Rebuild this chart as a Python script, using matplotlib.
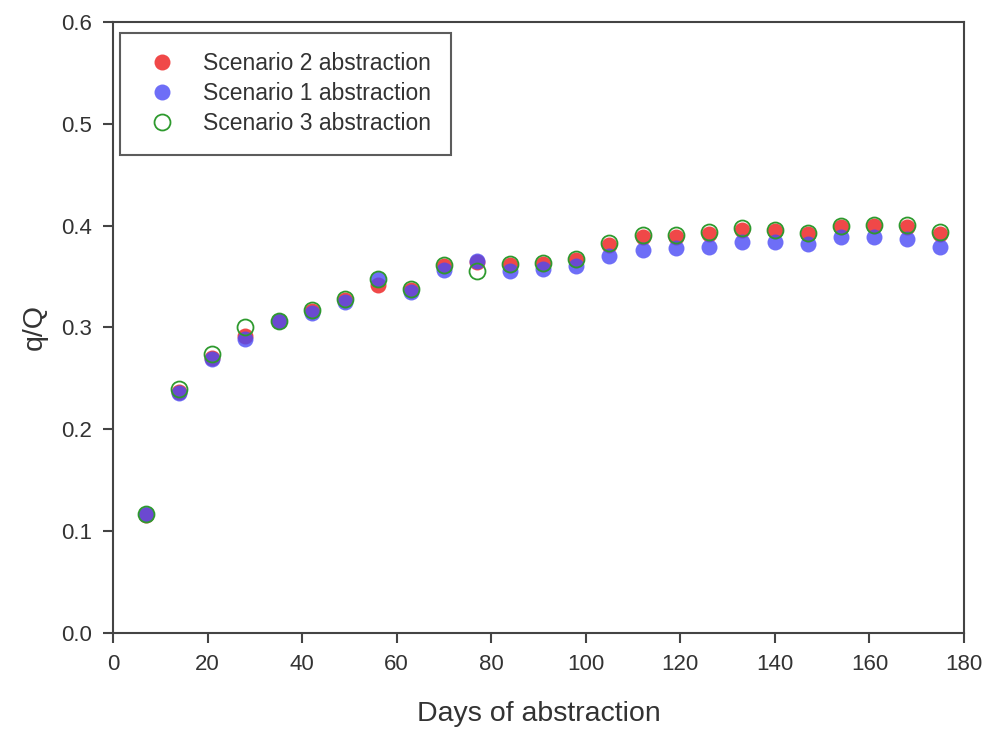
import matplotlib
matplotlib.use("Agg")
import matplotlib.pyplot as plt

plt.rcParams['font.family'] = ['Liberation Sans', 'DejaVu Sans']

days = [7, 14, 21, 28, 35, 42, 49, 56, 63, 70, 77, 84, 91, 98, 105, 112, 119,
        126, 133, 140, 147, 154, 161, 168, 175]

scenario2 = [0.116, 0.237, 0.270, 0.292, 0.306, 0.316, 0.327, 0.342, 0.337,
             0.360, 0.364, 0.361, 0.362, 0.366, 0.381, 0.389, 0.389, 0.392,
             0.396, 0.395, 0.392, 0.399, 0.400, 0.399, 0.392]
scenario1 = [0.117, 0.236, 0.269, 0.289, 0.306, 0.314, 0.325, 0.348, 0.335,
             0.356, 0.365, 0.355, 0.357, 0.360, 0.370, 0.376, 0.378, 0.379,
             0.384, 0.384, 0.382, 0.389, 0.389, 0.387, 0.379]
scenario3 = [0.117, 0.240, 0.274, 0.300, 0.306, 0.317, 0.328, 0.348, 0.338,
             0.361, 0.355, 0.362, 0.363, 0.367, 0.383, 0.391, 0.391, 0.394,
             0.398, 0.396, 0.393, 0.400, 0.401, 0.401, 0.394]

text_col = '#333333'
fig = plt.figure(figsize=(9.89, 7.32), dpi=100)
ax = fig.add_axes([0.1143, 0.1352, 0.8604, 0.835])

ax.plot(days, scenario2, 'o', ms=11.5, color='#f04848', mec='none',
        label='Scenario 2 abstraction', zorder=3)
ax.plot(days, scenario1, 'o', ms=11.5, color='#4a4af5', alpha=0.8, mec='none',
        label='Scenario 1 abstraction', zorder=4)
ax.plot(days, scenario3, 'o', ms=11.5, mfc='none', mec='#2e9a2e', mew=1.3,
        label='Scenario 3 abstraction', zorder=5)

ax.set_xlim(0, 180)
ax.set_ylim(0, 0.6)
ax.set_xticks(range(0, 181, 20))
ax.set_yticks([0.0, 0.1, 0.2, 0.3, 0.4, 0.5, 0.6])
ax.set_yticklabels(['0.0', '0.1', '0.2', '0.3', '0.4', '0.5', '0.6'])

for s in ax.spines.values():
    s.set_linewidth(1.5)
    s.set_color('#444444')
ax.tick_params(direction='out', length=7, width=1.5, color='#444444',
               labelsize=16, labelcolor=text_col, pad=8)

ax.set_xlabel('Days of abstraction', fontsize=20.5, color=text_col, labelpad=19)
ax.set_ylabel('q/Q', fontsize=20.5, color=text_col, labelpad=10)

leg = ax.legend(loc='upper left', bbox_to_anchor=(0.008, 0.982), fontsize=16.5,
                frameon=True, fancybox=False, borderpad=0.85, handletextpad=0.8,
                labelspacing=0.3, borderaxespad=0, handlelength=2.0)
leg.get_frame().set_edgecolor('#333333')
leg.get_frame().set_linewidth(1.5)
for t in leg.get_texts():
    t.set_color(text_col)

fig.savefig('out.png', dpi=100)
